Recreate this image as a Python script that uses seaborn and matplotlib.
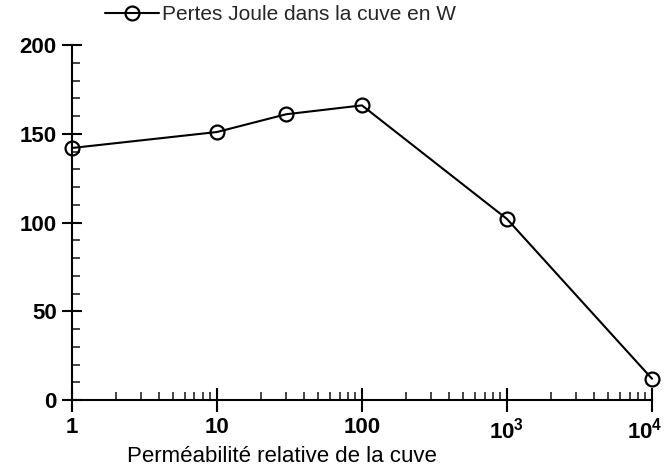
import matplotlib
matplotlib.use("Agg")
import matplotlib.pyplot as plt
import matplotlib.ticker as mticker
import matplotlib.transforms as mtransforms
import seaborn as sns
import pandas as pd

permeabilite = [1, 10, 30, 100, 1000, 10000]
pertes = [142, 151, 161, 166, 102, 12]
xtick_vals = [1, 10, 100, 1000, 10000]
xtick_labels = ["1", "10", "100", r"10$^{3}$", r"10$^{4}$"]
ytick_vals = [0, 50, 100, 150, 200]
serie_label = "Pertes Joule dans la cuve en W"
xlabel = "Perméabilité relative de la cuve"

sns.set_theme(style="ticks")
plt.rcParams['font.family'] = ['Liberation Sans', 'DejaVu Sans']
plt.rcParams['mathtext.fontset'] = 'custom'
plt.rcParams['mathtext.rm'] = 'Liberation Sans:bold'
plt.rcParams['mathtext.bf'] = 'Liberation Sans:bold'

fig = plt.figure(figsize=(6.66, 4.74), dpi=100)
ax = fig.add_axes([0.108, 0.156, 0.871, 0.749])

df = pd.DataFrame({"x": permeabilite, "y": pertes})
sns.lineplot(data=df, x="x", y="y", ax=ax, color="black", linewidth=1.5,
             marker="o", markersize=10, markerfacecolor="none",
             markeredgecolor="black", markeredgewidth=1.6,
             label=serie_label, clip_on=False)

ax.set_xscale("log")
ax.set_xlim(1, 10000)
ax.set_ylim(0, 200)
ax.set_xticks(xtick_vals)
ax.xaxis.set_major_formatter(mticker.FixedFormatter(xtick_labels))
ax.xaxis.set_minor_locator(mticker.LogLocator(base=10, subs=range(2, 10)))
ax.xaxis.set_minor_formatter(mticker.NullFormatter())
ax.set_yticks(ytick_vals)
ax.yaxis.set_minor_locator(mticker.MultipleLocator(10))

for s in ["top", "right"]:
    ax.spines[s].set_visible(False)
for s in ["left", "bottom"]:
    ax.spines[s].set_linewidth(1.5)
    ax.spines[s].set_color("black")

ax.tick_params(axis="both", which="major", direction="inout",
               width=1.5, colors="black", labelsize=16)
ax.tick_params(axis="x", which="major", length=17, pad=4)
ax.tick_params(axis="y", which="major", length=14, pad=4)
ax.tick_params(axis="x", which="minor", direction="in", length=6, width=1.2)
ax.tick_params(axis="y", which="minor", direction="in", length=6, width=1.2)
for lab in ax.get_xticklabels() + ax.get_yticklabels():
    lab.set_fontweight("bold")

# keep the last x tick label inside the figure
last = ax.get_xticklabels()[-1]
last.set_transform(last.get_transform() +
                   mtransforms.ScaledTranslation(-7 / 100, 0, fig.dpi_scale_trans))

ax.set_xlabel(xlabel, fontsize=16, color="black")
ax.xaxis.set_label_coords(0.362, -0.13)
ax.set_ylabel("")

leg = ax.legend(loc="center", bbox_to_anchor=(0.36, 1.085), frameon=False,
                fontsize=15, handlelength=2.6, handletextpad=0.15)

fig.savefig("out.png", dpi=100)
